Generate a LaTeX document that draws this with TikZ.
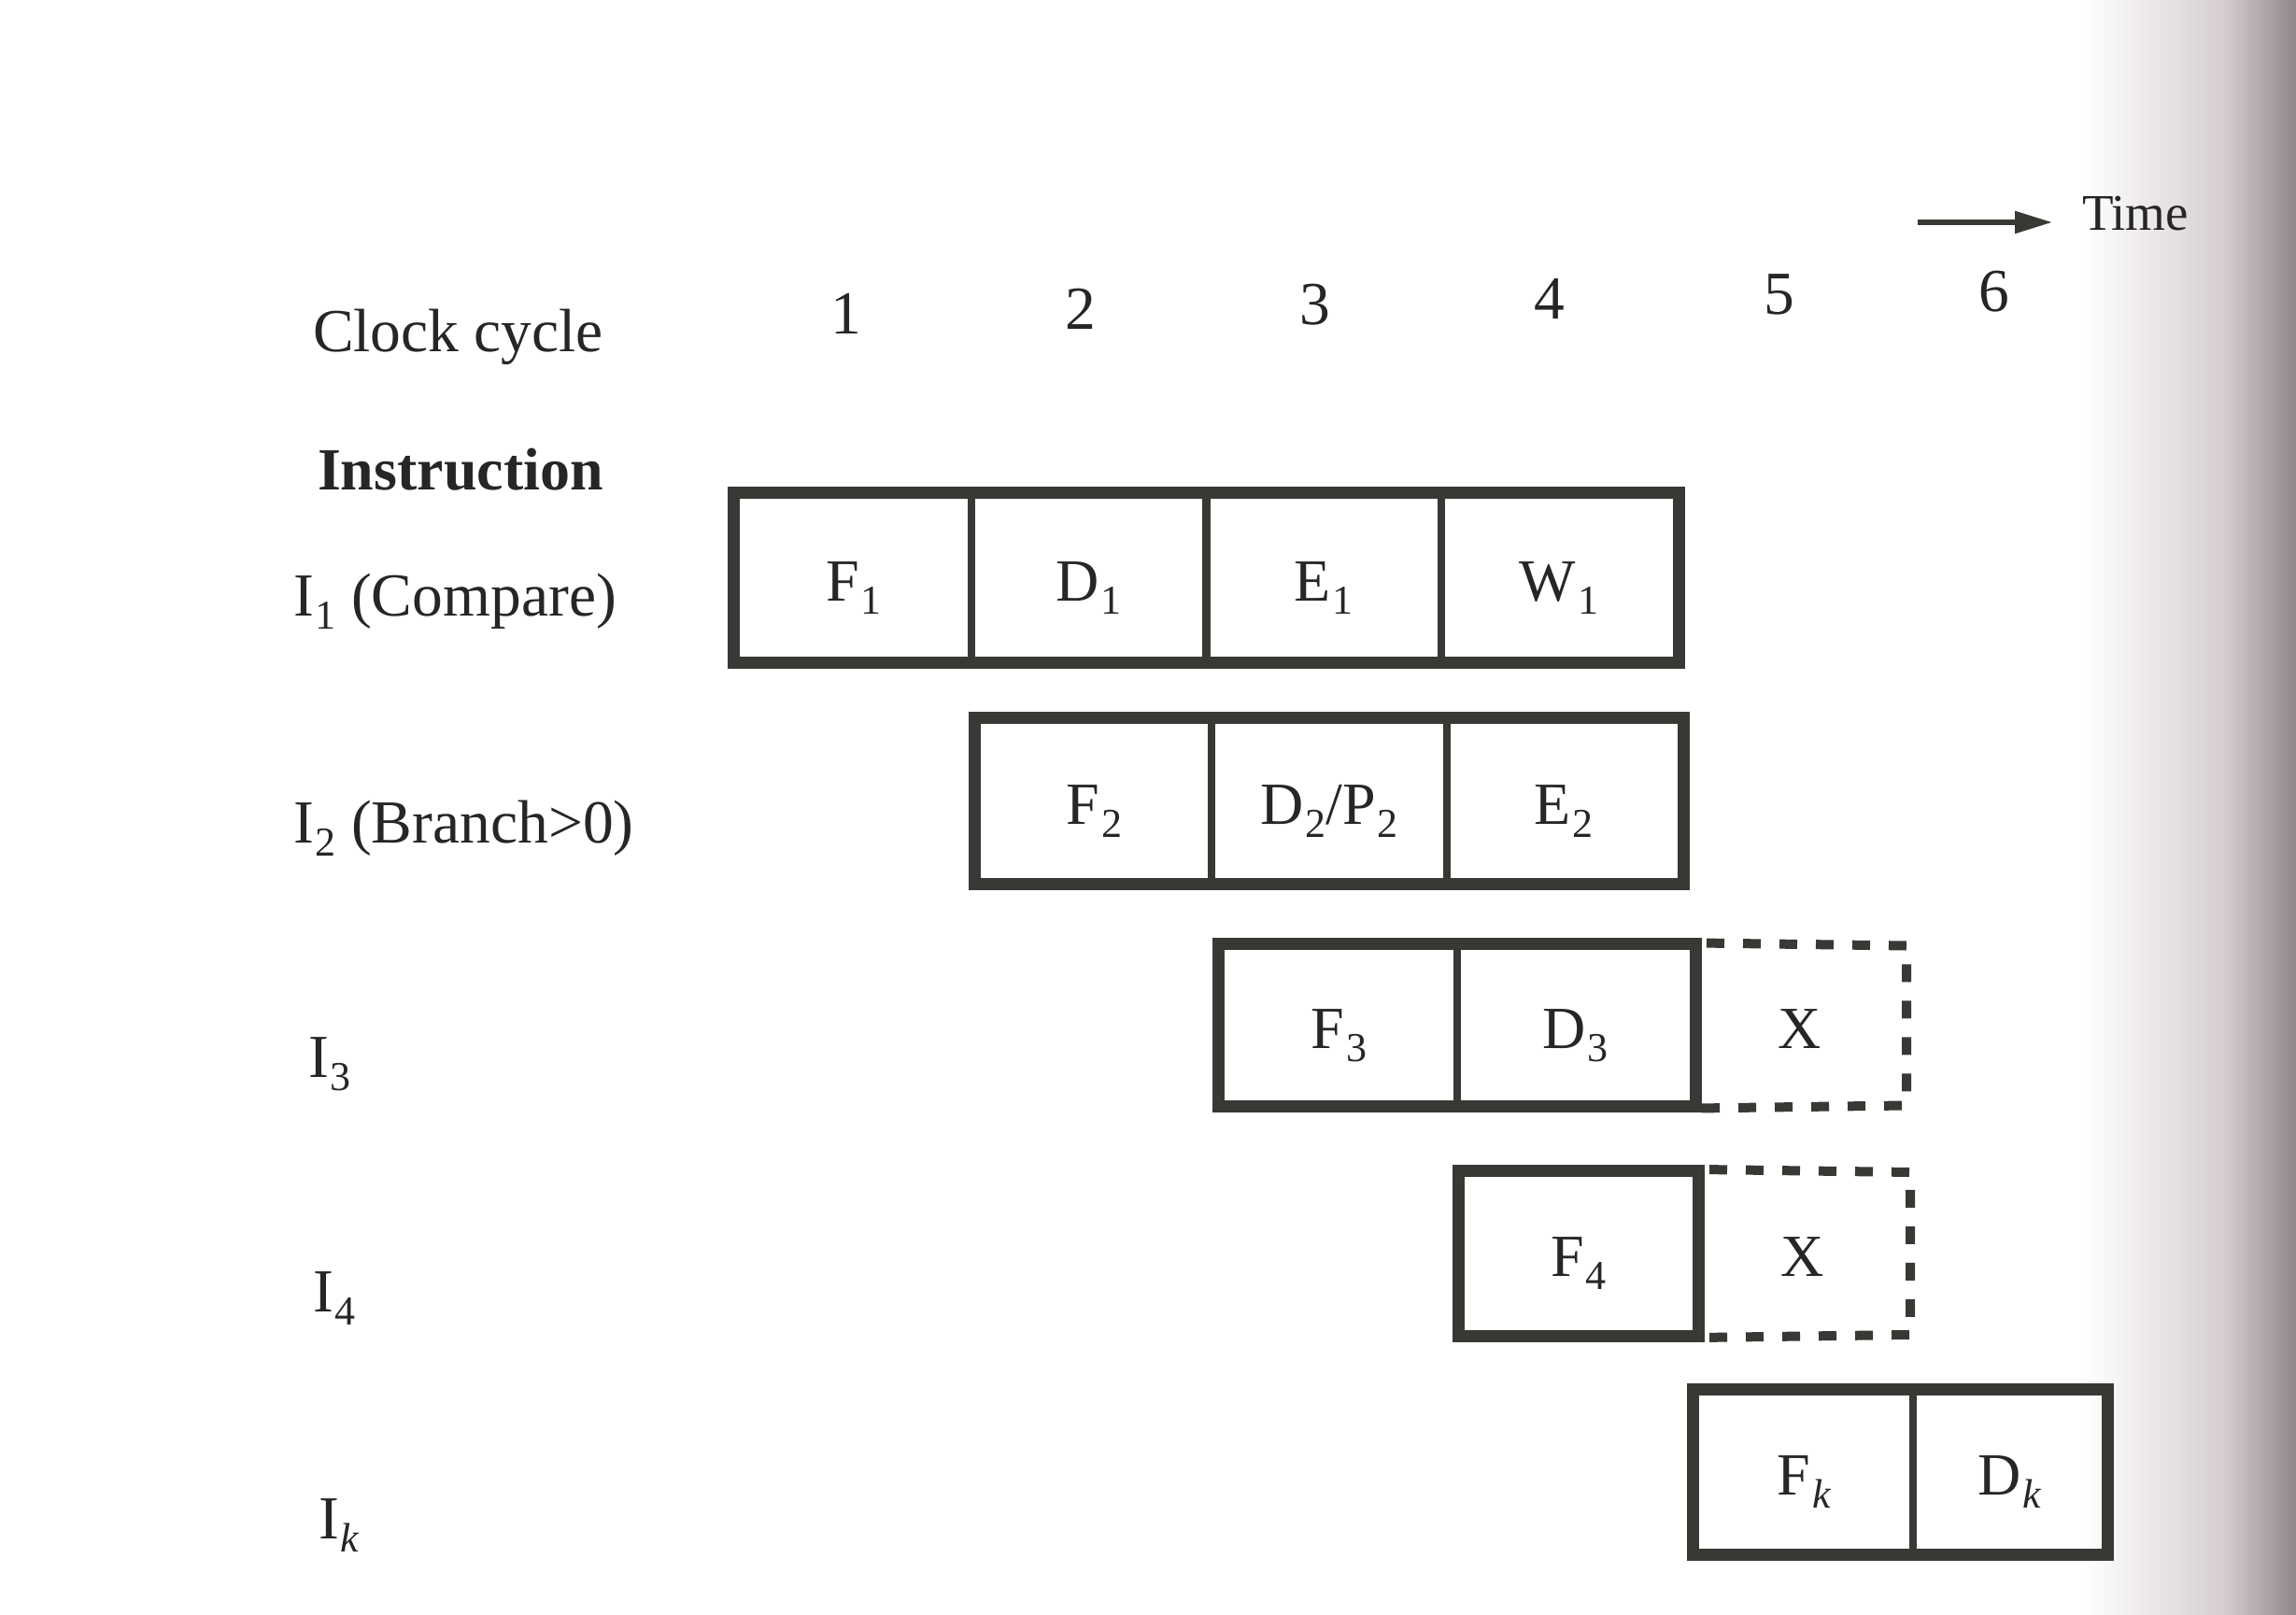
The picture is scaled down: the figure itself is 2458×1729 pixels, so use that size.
\documentclass[tikz,border=0pt]{standalone}
\usepackage{fontspec}
\setmainfont{Liberation Serif}
\usetikzlibrary{arrows.meta}
\definecolor{ink}{RGB}{58,56,52}
\definecolor{txt}{RGB}{40,38,36}
\definecolor{shadowa}{RGB}{214,206,208}
\definecolor{shadowb}{RGB}{145,134,138}
\newcommand{\sbs}[1]{\kern0.4pt\raisebox{-2.8pt}{\fontsize{8.8}{9}\selectfont #1}}
\begin{document}
\begin{tikzpicture}[x=0.2pt,y=-0.2pt,
  every node/.style={font=\fontsize{13.1}{15}\selectfont, text=txt, inner sep=0pt},
  cell/.style={draw=ink, line width=1.6pt, font=\fontsize{12.8}{15}\selectfont,
               text height=10pt, text depth=0pt},
  ghost/.style={font=\fontsize{12.8}{15}\selectfont, text height=10pt, text depth=0pt},
  frame/.style={draw=ink, line width=2pt},
  dashbox/.style={draw=ink, line width=2pt, dash pattern=on 3.8pt off 4pt, dash phase=-2pt},
  lbl/.style={anchor=base west},
  num/.style={anchor=base},
]
% page
\fill[white] (0,0) rectangle (2458,1729);
\shade[left color=white, right color=shadowa] (2230,0) rectangle (2381,1729);
\shade[left color=shadowa, right color=shadowb] (2380,0) rectangle (2458,1729);
\useasboundingbox (0,0) rectangle (2458,1729);

% header
\node[lbl] (clk) at (334,377) {Clock cycle};
\node[lbl, font=\fontsize{12.8}{15}\selectfont\bfseries] (instr) at (339,525) {Instruction};
\node[num] (c1) at (906,358) {1};
\node[num] (c2) at (1157,353) {2};
\node[num] (c3) at (1408,348) {3};
\node[num] (c4) at (1659,342) {4};
\node[num] (c5) at (1905,337) {5};
\node[num] (c6) at (2135,334) {6};
\node[lbl, font=\fontsize{11}{14}\selectfont] (time) at (2228,247) {Time};
\coordinate (tstart) at (2053,238);
\coordinate (tend) at (2197,238);
\draw[ink, line width=1.1pt, -{Triangle[length=8pt,width=4.6pt]}] (tstart) -- (tend);

% row labels
\node[lbl] (l1) at (313,660) {I\sbs{1} (Compare)};
\node[lbl] (l2) at (313,903) {I\sbs{2} (Branch>0)};
\node[lbl] (l3) at (329,1154) {I\sbs{3}};
\node[lbl] (l4) at (334,1405) {I\sbs{4}};
\node[lbl] (lk) at (340,1648) {I\sbs{\itshape k}};

% row 1
\begin{scope}[every node/.append style={minimum width=50.35pt, minimum height=35.4pt}]
\node[cell] (f1) at (913.9,619) {F\sbs{1}};
\node[cell] (d1) at (1165.6,619) {D\sbs{1}};
\node[cell] (e1) at (1417.4,619) {E\sbs{1}};
\node[cell] (w1) at (1669.1,619) {W\sbs{1}};
\end{scope}
\draw[frame] (f1.north west) rectangle (w1.south east);

% row 2
\begin{scope}[every node/.append style={minimum width=50.26pt, minimum height=34.6pt}]
\node[cell] (f2) at (1171.7,858) {F\sbs{2}};
\node[cell] (d2) at (1423,858) {D\sbs{2}/P\sbs{2}};
\node[cell] (e2) at (1674.3,858) {E\sbs{2}};
\end{scope}
\draw[frame] (f2.north west) rectangle (e2.south east);

% row 3
\begin{scope}[every node/.append style={minimum height=33.8pt}]
\node[cell, minimum width=50.6pt] (f3) at (1433.5,1098) {F\sbs{3}};
\node[cell, minimum width=50.6pt] (d3) at (1686.5,1098) {D\sbs{3}};
\node[ghost, minimum width=45.4pt] (x3) at (1926.5,1098) {X};
\end{scope}
\draw[frame] (f3.north west) rectangle (d3.south east);
\draw[dashbox] (d3.north east) -- (x3.north east) -- (x3.south east) -- (d3.south east);

% row 4
\begin{scope}[every node/.append style={minimum height=34.4pt}]
\node[cell, minimum width=50.4pt] (f4) at (1690,1342) {F\sbs{4}};
\node[ghost, minimum width=45.6pt] (x4) at (1930,1342) {X};
\end{scope}
\draw[frame] (f4.north west) rectangle (f4.south east);
\draw[dashbox] (f4.north east) -- (x4.north east) -- (x4.south east) -- (f4.south east);

% row k
\begin{scope}[every node/.append style={minimum height=34.4pt}]
\node[cell, minimum width=46.6pt] (fk) at (1931.5,1576) {F\sbs{\itshape k}};
\node[cell, minimum width=41.2pt] (dk) at (2151,1576) {D\sbs{\itshape k}};
\end{scope}
\draw[frame] (fk.north west) rectangle (dk.south east);
\end{tikzpicture}
\end{document}
